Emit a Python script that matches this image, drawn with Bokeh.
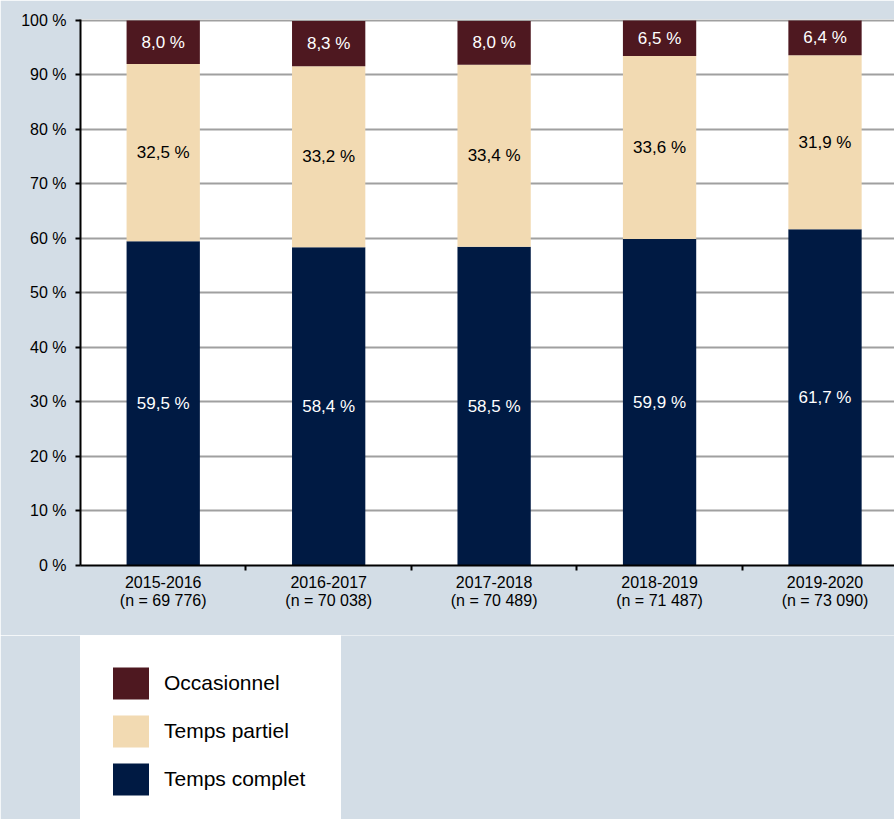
from bokeh.plotting import figure
from bokeh.layouts import column
from bokeh.models import (ColumnDataSource, Range1d, FixedTicker, Legend, LegendItem)
from bokeh.core.properties import value
from bokeh.embed import file_html
from bokeh.resources import INLINE

# ---- data ----
years = ["2015-2016", "2016-2017", "2017-2018", "2018-2019", "2019-2020"]
counts = ["69 776", "70 038", "70 489", "71 487", "73 090"]
temps_complet = [59.5, 58.4, 58.5, 59.9, 61.7]
temps_partiel = [32.5, 33.2, 33.4, 33.6, 31.9]
occasionnel = [8.0, 8.3, 8.0, 6.5, 6.4]
y_ticks = [0, 10, 20, 30, 40, 50, 60, 70, 80, 90, 100]
series_names = ["Temps complet", "Temps partiel", "Occasionnel"]

NAVY = "#001a43"
BEIGE = "#f2dab2"
MAROON = "#4e1820"
BG = "#d3dde6"
FONT = "Liberation Sans"
colors = [NAVY, BEIGE, MAROON]

def fmt(v):
    return f"{v:.1f}".replace(".", ",") + " %"

xs = [i + 0.5 for i in range(len(years))]
source = ColumnDataSource(dict(x=xs, complet=temps_complet, partiel=temps_partiel, occ=occasionnel))

p = figure(width=894, height=635, output_backend="svg", toolbar_location=None,
           x_range=Range1d(0, 4.92), y_range=Range1d(0, 100.18),
           min_border_left=80, min_border_right=0, min_border_top=19, min_border_bottom=70)
p.background_fill_color = "white"
p.border_fill_color = BG
p.outline_line_color = None

renderers = p.vbar_stack(["complet", "partiel", "occ"], x="x", width=0.443,
                         color=colors, line_color=None, source=source)

# labels in the middle of each segment
lab_x, lab_y, lab_t, lab_c = [], [], [], []
for i in range(len(years)):
    base = 0.0
    for vals, col in ((temps_complet, "white"), (temps_partiel, "black"), (occasionnel, "white")):
        v = vals[i]
        lab_x.append(xs[i]); lab_y.append(base + v / 2); lab_t.append(fmt(v)); lab_c.append(col)
        base += v
lsrc = ColumnDataSource(dict(x=lab_x, y=lab_y, t=lab_t, c=lab_c))
p.text(x="x", y="y", text="t", text_color="c", source=lsrc, text_align="center",
       text_baseline="middle", text_font_size="17px", text_font=value(FONT))

# y axis
p.yaxis.ticker = FixedTicker(ticks=y_ticks)
p.yaxis.major_label_overrides = {t: f"{t} %" for t in y_ticks}
p.yaxis.axis_line_color = "black"
p.yaxis.axis_line_width = 2
p.yaxis.major_tick_line_color = "black"
p.yaxis.major_tick_line_width = 2
p.yaxis.major_tick_out = 5
p.yaxis.major_tick_in = 0
p.yaxis.minor_tick_line_color = None
p.yaxis.major_label_standoff = 9
p.yaxis.major_label_text_font = FONT
p.yaxis.major_label_text_font_size = "16px"
p.yaxis.major_label_text_color = "black"

# x axis
p.xaxis.ticker = FixedTicker(ticks=xs, minor_ticks=[1, 2, 3, 4, 5])
p.xaxis.major_label_overrides = {x: f"{y}\n(n = {n})" for x, y, n in zip(xs, years, counts)}
p.xaxis.axis_line_color = "black"
p.xaxis.axis_line_width = 2
p.xaxis.major_tick_line_color = None
p.xaxis.minor_tick_line_color = "black"
p.xaxis.minor_tick_line_width = 2
p.xaxis.minor_tick_out = 5
p.xaxis.minor_tick_in = 0
p.xaxis.major_label_standoff = 2
p.xaxis.major_label_text_font = FONT
p.xaxis.major_label_text_font_size = "16px"
p.xaxis.major_label_text_color = "black"
p.xaxis.major_label_text_line_height = 1.1

p.xgrid.grid_line_color = None
p.ygrid.ticker = FixedTicker(ticks=y_ticks)
p.ygrid.grid_line_color = "#a0a0a0"
p.ygrid.grid_line_width = 2

# ---- legend panel ----
p2 = figure(width=894, height=184, output_backend="svg", toolbar_location=None,
            x_range=Range1d(0, 1), y_range=Range1d(0, 1),
            x_axis_location=None, y_axis_location=None,
            min_border_left=80, min_border_right=0, min_border_top=0, min_border_bottom=0)
p2.background_fill_color = BG
p2.border_fill_color = BG
p2.outline_line_color = None
p2.grid.grid_line_color = None
series_vals = [temps_complet, temps_partiel, occasionnel]
leg_r = []
for c, vals in zip(colors, series_vals):
    r = p2.vbar(x=xs, top=vals, width=0.1, color=c, line_color=None)
    r.visible = False
    leg_r.append(r)

legend = Legend(items=[LegendItem(label=series_names[i], renderers=[leg_r[i]]) for i in (2, 1, 0)],
                location="top_left")
legend.background_fill_color = "white"
legend.background_fill_alpha = 1
legend.border_line_color = "white"
legend.border_line_width = 1
legend.inactive_fill_alpha = 0
legend.padding = 27
legend.spacing = 8
legend.margin = 0
legend.glyph_width = 45
legend.glyph_height = 40
legend.label_standoff = 11
legend.label_height = 40
legend.label_width = 149
legend.label_text_font = FONT
legend.label_text_font_size = "21px"
legend.label_text_color = "black"
legend.label_text_baseline = "middle"
p2.add_layout(legend, "center")

layout = column(p, p2, spacing=0)
open("out.html", "w").write(file_html(layout, INLINE))
